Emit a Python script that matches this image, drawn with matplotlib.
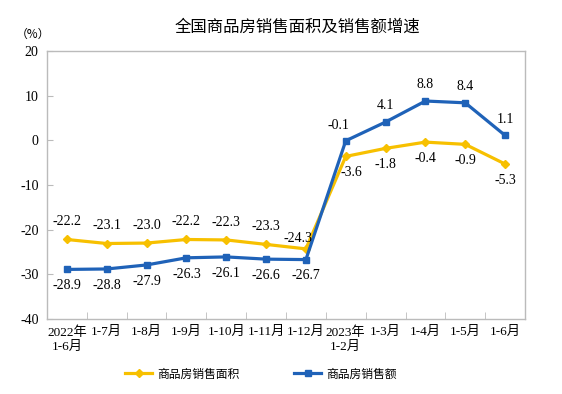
import matplotlib
matplotlib.use("Agg")
import matplotlib.pyplot as plt

categories = ["2022年\n1-6月", "1-7月", "1-8月", "1-9月", "1-10月", "1-11月", "1-12月",
              "2023年\n1-2月", "1-3月", "1-4月", "1-5月", "1-6月"]
area = [-22.2, -23.1, -23.0, -22.2, -22.3, -23.3, -24.3, -3.6, -1.8, -0.4, -0.9, -5.3]
sales = [-28.9, -28.8, -27.9, -26.3, -26.1, -26.6, -26.7, -0.1, 4.1, 8.8, 8.4, 1.1]
yticks = [-40, -30, -20, -10, 0, 10, 20]
series_names = ["商品房销售面积", "商品房销售额"]

YELLOW = "#F7C000"
BLUE = "#1F62B8"
num_font = ["Liberation Serif", "Noto Sans CJK SC"]
cjk_font = ["Noto Sans CJK SC", "DejaVu Sans"]

fig = plt.figure(figsize=(5.62, 3.94), dpi=100)
ax = fig.add_axes([47/562, 1-319/394, (525-47)/562, (319-51)/394])

x = list(range(len(categories)))
ax.plot(x, area, color=YELLOW, lw=2.3, marker="D", ms=4, label=series_names[0])
ax.plot(x, sales, color=BLUE, lw=2.3, marker="s", ms=4, label=series_names[1])

ax.set_xlim(-0.5, len(categories) - 0.5)
ax.set_ylim(-40, 20)
ax.set_yticks(yticks)
ax.set_yticklabels([str(v) for v in yticks], family=num_font, fontsize=10)
ax.set_xticks(x)
ax.set_xticklabels(categories, family=["Liberation Serif", "Noto Sans CJK SC"], fontsize=9.5, linespacing=1.3)
ax.tick_params(axis="x", length=0, pad=5)
ax.set_xticks([i + 0.5 for i in range(len(categories) - 1)], minor=True)
ax.tick_params(axis="x", which="minor", length=5, direction="in", color="#BBBBBB")
ax.tick_params(axis="y", length=4, direction="in", color="#BBBBBB", pad=6)
for s in ax.spines.values():
    s.set_color("#BBBBBB")
    s.set_linewidth(1)

# data labels
for i, (a, s) in enumerate(zip(area, sales)):
    af = f"{a:.1f}"
    sf = f"{s:.1f}"
    if i < 6:
        ax.annotate(af, (i, a), xytext=(0, 8), textcoords="offset points", ha="center", va="bottom",
                    family=num_font, fontsize=10)
        ax.annotate(sf, (i, s), xytext=(0, -7), textcoords="offset points", ha="center", va="top",
                    family=num_font, fontsize=10)
    elif i == 6:
        ax.annotate(af, (i, a), xytext=(-6, 3), textcoords="offset points", ha="center", va="bottom",
                    family=num_font, fontsize=10)
        ax.annotate(sf, (i, s), xytext=(0, -7), textcoords="offset points", ha="center", va="top",
                    family=num_font, fontsize=10)
    else:
        if i == 7:
            ax.annotate(sf, (i, s), xytext=(-5, 6), textcoords="offset points", ha="center", va="bottom",
                        family=num_font, fontsize=10)
            ax.annotate(af, (i, a), xytext=(4, -7), textcoords="offset points", ha="center", va="top",
                        family=num_font, fontsize=10)
        else:
            ax.annotate(sf, (i, s), xytext=(0, 7), textcoords="offset points", ha="center", va="bottom",
                        family=num_font, fontsize=10)
            ax.annotate(af, (i, a), xytext=(0, -7), textcoords="offset points", ha="center", va="top",
                        family=num_font, fontsize=10)

fig.text(297/562, 1-27/394, "全国商品房销售面积及销售额增速", ha="center", va="center",
         family=cjk_font, fontsize=11.8)
fig.text(33/562, 1-34/394, "（%）", ha="center", va="center", family=cjk_font, fontsize=8.5)

leg = fig.legend(loc="center", bbox_to_anchor=(261/562, 1-374/394), ncol=2, frameon=False,
                 prop={"family": cjk_font, "size": 8.5}, handlelength=2.3, handletextpad=0.45,
                 columnspacing=4.6)

fig.savefig("out.png", dpi=100)
